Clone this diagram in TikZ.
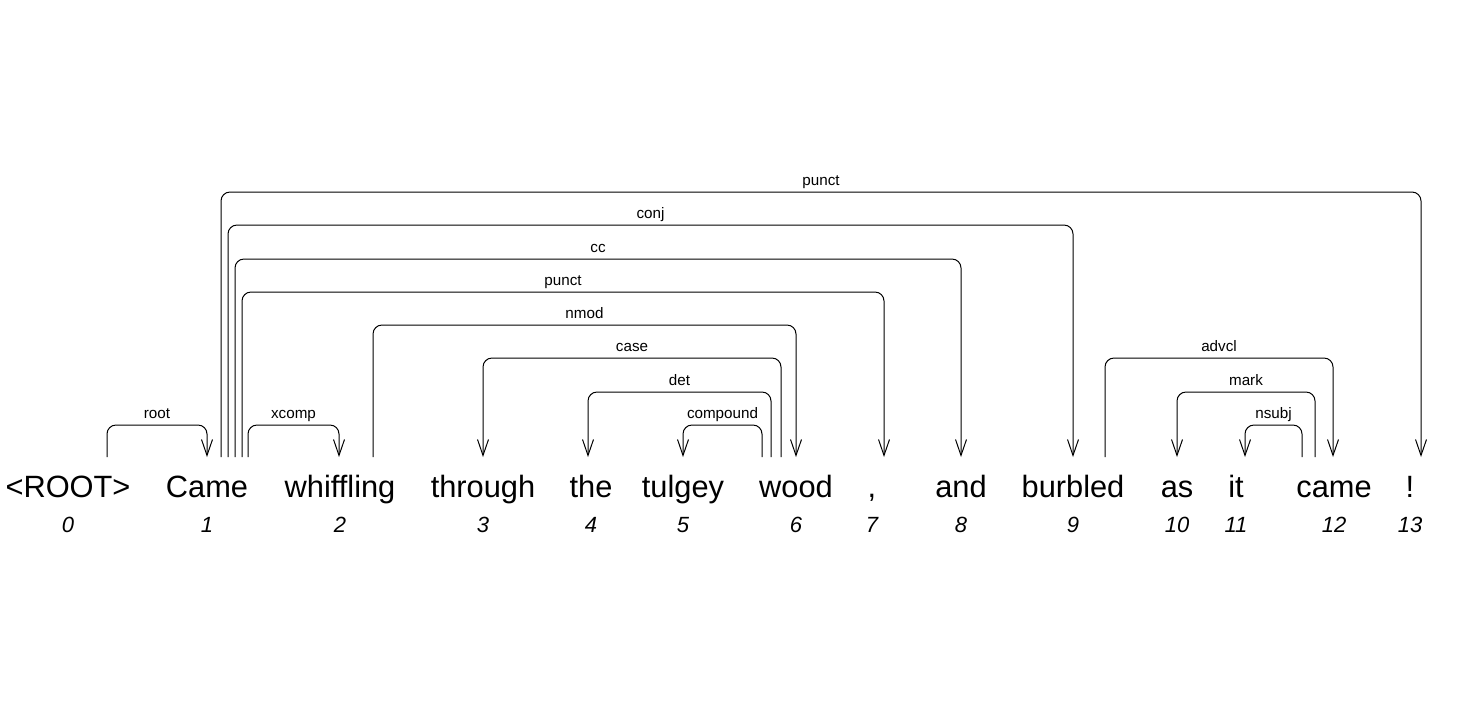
\documentclass[tikz,border=0pt]{standalone}
\usepackage{fontspec}
\setmainfont{Liberation Sans}
\usetikzlibrary{arrows.meta}
\newcommand\drawdep[6]{%
  \coordinate (#1s) at (#2,457);
  \coordinate (#1e) at (#3,457);
  \draw[deparc] (#1s) -- (#2,#4) -- (#3,#4) -- (#1e);
  \node[deplab] (#1l) at ({(#2+#3)/2},{#4-7}) {#6};
}
\tikzset{
  word/.style={anchor=base, inner sep=0pt, font=\fontsize{15.4pt}{17pt}\selectfont},
  num/.style={anchor=base, inner sep=0pt, font=\fontsize{11pt}{13pt}\selectfont\itshape},
  deplab/.style={anchor=base, inner sep=0pt, font=\fontsize{7.6pt}{9pt}\selectfont},
  deparc/.style={line width=0.5pt, rounded corners=4.5pt, -{Straight Barb[length=8pt,width=5.5pt,line width=0.5pt]}}
}
\begin{document}
\begin{tikzpicture}[x=0.5pt,y=-0.5pt]
\fill[white] (0,0) rectangle (1471,714);
\useasboundingbox (0,0) rectangle (1471,714);
\foreach \i/\x/\w in {0/68/{<ROOT>},1/207/Came,2/340/whiffling,3/483/through,4/591/the,5/683/tulgey,6/796/wood,7/872/{,},8/961/and,9/1073/burbled,10/1177/as,11/1236/it,12/1334/came,13/1410/!}{
  \node[word] (w\i) at (\x,497) {\w};
  \node[num] (n\i) at (\x,532) {\i};
}
\drawdep{root}{107}{207}{425}{}{root}
\drawdep{xcomp}{248}{339}{425}{}{xcomp}
\drawdep{compound}{762}{683}{425}{}{compound}
\drawdep{nsubj}{1302}{1245}{425}{}{nsubj}
\drawdep{det}{771}{588}{392}{}{det}
\drawdep{mark}{1315}{1177}{392}{}{mark}
\drawdep{case}{781}{483}{358}{}{case}
\drawdep{advcl}{1105}{1333}{358}{}{advcl}
\drawdep{nmod}{373}{796}{325}{}{nmod}
\drawdep{puncta}{242}{884}{292}{}{punct}
\drawdep{cc}{235}{961}{259}{}{cc}
\drawdep{conj}{228}{1073}{225}{}{conj}
\drawdep{punctb}{221}{1421}{192}{}{punct}
\end{tikzpicture}
\end{document}
